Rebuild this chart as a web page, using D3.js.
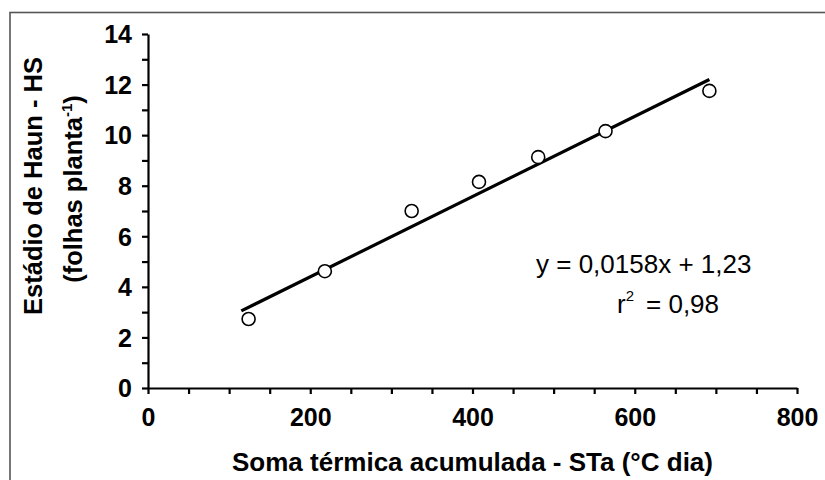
<!DOCTYPE html>
<html>
<head>
<meta charset="utf-8">
<script src="https://cdn.jsdelivr.net/npm/d3@7"></script>
<style>
  body { margin: 0; background: #fff; }
  svg { display: block; }
</style>
</head>
<body>
<div id="chart"></div>
<script>
/* global d3 */

/* observed points: thermal sum (°C day) vs Haun stage */
var sta = [124, 218, 325, 408, 481, 564, 692];
var hs = [2.73, 4.62, 7.0, 8.15, 9.13, 10.16, 11.75];

/* ends of the fitted line as drawn */
var fitX = [115, 692];
var fitY = [3.05, 12.2];

var xTicks = [0, 200, 400, 600, 800];
var yTicks = [0, 2, 4, 6, 8, 10, 12, 14];
var xMinor = d3.range(0, 801, 50);
var yMinor = d3.range(0, 15, 1);

var eqLine = "y = 0,0158x + 1,23";
var r2Value = "= 0,98";

var W = 825, H = 480;
var svg = d3.select("#chart").append("svg")
  .attr("width", W)
  .attr("height", H);

/* frame round the figure */
svg.append("rect")
  .attr("x", 10).attr("y", 12.5)
  .attr("width", W + 20).attr("height", H + 20)
  .style("fill", "none")
  .style("stroke", "#555")
  .style("stroke-width", 1.6);

var x = d3.scaleLinear().domain([0, 800]).range([148, 797]);
var y = d3.scaleLinear().domain([0, 14]).range([388, 34]);

var font = "'Liberation Sans', Arial, Helvetica, sans-serif";

/* x axis */
var xAxis = svg.append("g")
  .attr("transform", "translate(0," + y(0) + ")")
  .call(d3.axisBottom(x)
    .tickValues(xMinor)
    .tickSize(6)
    .tickSizeOuter(0)
    .tickFormat(function(d) { return xTicks.indexOf(d) >= 0 ? d : ""; }));

/* y axis */
var yAxis = svg.append("g")
  .attr("transform", "translate(" + x(0) + ",0)")
  .call(d3.axisLeft(y)
    .tickValues(yMinor)
    .tickSize(6)
    .tickSizeOuter(0)
    .tickFormat(function(d) { return yTicks.indexOf(d) >= 0 ? d : ""; }));

[xAxis, yAxis].forEach(function(a) {
  a.select(".domain").style("stroke", "#000").style("stroke-width", 2.2);
  a.selectAll(".tick line").style("stroke", "#000").style("stroke-width", 2.2);
  a.selectAll(".tick text")
    .style("font-family", font)
    .style("font-weight", "bold")
    .style("font-size", "25px")
    .style("fill", "#000");
});
xAxis.selectAll(".tick text").attr("y", 20).attr("dy", "0.71em");
yAxis.selectAll(".tick text").attr("x", -16).attr("dy", "0.35em");

/* fitted line */
svg.append("line")
  .attr("x1", x(fitX[0])).attr("y1", y(fitY[0]))
  .attr("x2", x(fitX[1])).attr("y2", y(fitY[1]))
  .style("stroke", "#000")
  .style("stroke-width", 3.2);

/* points */
svg.selectAll(".pt")
  .data(sta)
  .enter().append("circle")
  .attr("class", "pt")
  .attr("cx", function(d) { return x(d); })
  .attr("cy", function(d, i) { return y(hs[i]); })
  .attr("r", 6.5)
  .style("fill", "#fff")
  .style("stroke", "#000")
  .style("stroke-width", 1.6);

/* axis titles */
svg.append("text")
  .attr("x", (x(0) + x(800)) / 2)
  .attr("y", 471)
  .attr("text-anchor", "middle")
  .style("font-family", font)
  .style("font-weight", "bold")
  .style("font-size", "26px")
  .text("Soma térmica acumulada - STa (°C dia)");

svg.append("text")
  .attr("transform", "translate(42,186) rotate(-90)")
  .attr("text-anchor", "middle")
  .style("font-family", font)
  .style("font-weight", "bold")
  .style("font-size", "25.5px")
  .text("Estádio de Haun - HS");

var t2 = svg.append("text")
  .attr("transform", "translate(82,189) rotate(-90)")
  .attr("text-anchor", "middle")
  .style("font-family", font)
  .style("font-weight", "bold")
  .style("font-size", "25.5px");
t2.append("tspan").text("(folhas planta");
t2.append("tspan").attr("dy", -10).style("font-size", "15px").text("-1");
t2.append("tspan").attr("dy", 10).text(")");

/* equation */
svg.append("text")
  .attr("x", 536).attr("y", 273)
  .style("font-family", font)
  .style("font-size", "26px")
  .text(eqLine);

var r2 = svg.append("text")
  .attr("x", 617).attr("y", 313)
  .style("font-family", font)
  .style("font-size", "26px");
r2.append("tspan").text("r");
r2.append("tspan").attr("dy", -12).style("font-size", "15px").text("2");
r2.append("tspan").attr("dy", 12).attr("dx", 12).text(r2Value);
</script>
</body>
</html>
